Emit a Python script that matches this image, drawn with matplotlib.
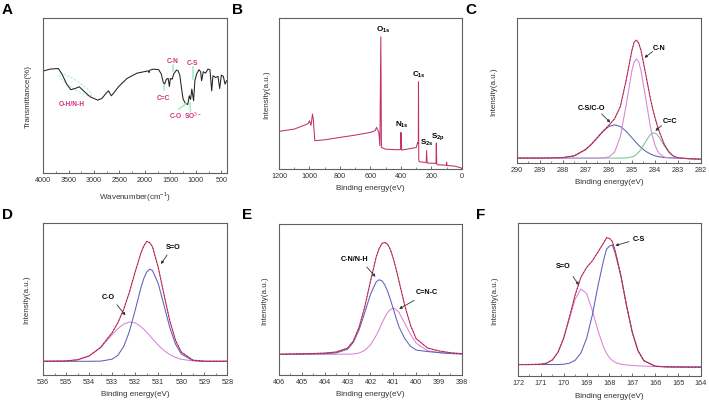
import numpy as np
import matplotlib
matplotlib.use("Agg")
import matplotlib.pyplot as plt
from matplotlib.patches import Ellipse
from matplotlib.ticker import MultipleLocator

plt.rcParams['font.family'] = ['Liberation Sans', 'DejaVu Sans']
plt.rcParams['mathtext.fontset'] = 'custom'
plt.rcParams['mathtext.rm'] = 'Liberation Sans'
plt.rcParams['mathtext.bf'] = 'Liberation Sans:bold'

# ---- A: FTIR spectrum (wavenumber, transmittance fraction)
ftir_wn = [3980, 3860, 3700, 3630, 3535, 3455, 3370, 3290, 3205, 3075, 2925, 2845,
           2760, 2715, 2660, 2615, 2515, 2350, 2155, 1960, 1935, 1920, 1905, 1830,
           1730, 1680, 1640, 1615, 1580, 1545, 1520, 1500, 1465, 1435, 1380, 1350,
           1315, 1285, 1250, 1205, 1160, 1130, 1105, 1080, 1045, 1020, 985, 940,
           907, 888, 855, 810, 763, 724, 690, 665, 612, 566, 533, 500, 461, 428, 395]
ftir_tr = [0.660, 0.671, 0.675, 0.640, 0.574, 0.538, 0.546, 0.557, 0.531, 0.492, 0.471, 0.482,
           0.516, 0.531, 0.499, 0.516, 0.559, 0.611, 0.645, 0.658, 0.660, 0.648, 0.664, 0.671,
           0.667, 0.640, 0.585, 0.574, 0.606, 0.611, 0.559, 0.611, 0.606, 0.640, 0.665, 0.660,
           0.632, 0.553, 0.477, 0.449, 0.443, 0.499, 0.475, 0.542, 0.467, 0.596, 0.640, 0.667,
           0.654, 0.596, 0.654, 0.645, 0.671, 0.667, 0.531, 0.628, 0.617, 0.624, 0.546, 0.632,
           0.624, 0.574, 0.596]

# ---- B: XPS survey
surv_be = [1200, 1100, 1010, 1000, 990, 980, 975, 965, 900, 800, 700, 600, 570, 560,
           545, 538, 532, 528, 500, 420, 402, 400, 396, 300, 290, 286, 285, 283, 280,
           240, 234, 232, 228, 170, 168, 165, 160, 102, 100, 98, 50, 10, 0]
surv_int = [0.250, 0.265, 0.300, 0.320, 0.290, 0.364, 0.330, 0.188, 0.194, 0.210, 0.225, 0.243, 0.254, 0.276,
            0.243, 0.155, 0.876, 0.143, 0.132, 0.128, 0.130, 0.243, 0.126, 0.143, 0.177, 0.170, 0.578, 0.060, 0.049,
            0.044, 0.046, 0.121, 0.040, 0.038, 0.172, 0.034, 0.029, 0.026, 0.045, 0.024, 0.020, 0.010, 0.004]

# ---- C: C 1s
c_be = [290, 289, 288, 287.5, 287, 286.75, 286.5, 286.25, 286, 285.75, 285.5, 285.25, 285, 284.9,
        284.8, 284.7, 284.6, 284.4, 284.2, 284.1, 284, 283.9, 283.8, 283.6, 283.4, 283.2, 283, 282.5, 282]
c_sum = [0.034, 0.034, 0.037, 0.050, 0.094, 0.131, 0.175, 0.220, 0.260, 0.305, 0.390, 0.570, 0.775, 0.834,
         0.848, 0.827, 0.775, 0.615, 0.450, 0.377, 0.316, 0.262, 0.214, 0.133, 0.079, 0.049, 0.036, 0.030, 0.026]
c_cn = [0.034, 0.034, 0.034, 0.034, 0.034, 0.034, 0.034, 0.035, 0.042, 0.075, 0.182, 0.397, 0.636, 0.697,
        0.718, 0.697, 0.636, 0.449, 0.256, 0.182, 0.127, 0.088, 0.064, 0.042, 0.036, 0.034, 0.033, 0.030, 0.026]
c_cs = [0.034, 0.034, 0.037, 0.050, 0.094, 0.131, 0.175, 0.219, 0.252, 0.264, 0.252, 0.219, 0.175, 0.157,
        0.139, 0.123, 0.107, 0.081, 0.063, 0.056, 0.050, 0.046, 0.043, 0.038, 0.036, 0.035, 0.033, 0.030, 0.026]
c_cc = [0.034, 0.034, 0.034, 0.034, 0.034, 0.034, 0.034, 0.034, 0.034, 0.034, 0.034, 0.035, 0.042, 0.048,
        0.059, 0.075, 0.095, 0.148, 0.196, 0.207, 0.207, 0.196, 0.175, 0.121, 0.075, 0.048, 0.036, 0.030, 0.026]

# ---- D: O 1s
d_be = [536, 535, 534.5, 534, 533.5, 533, 532.75, 532.5, 532.25, 532, 531.75, 531.625, 531.5, 531.375,
        531.25, 531, 530.75, 530.5, 530.25, 530, 529.5, 529, 528]
d_sum = [0.090, 0.092, 0.100, 0.125, 0.182, 0.279, 0.345, 0.432, 0.546, 0.680, 0.804, 0.850, 0.880, 0.872,
         0.845, 0.708, 0.529, 0.357, 0.228, 0.151, 0.098, 0.090, 0.090]
d_so = [0.090, 0.090, 0.090, 0.090, 0.091, 0.104, 0.130, 0.187, 0.287, 0.427, 0.576, 0.636, 0.678, 0.697,
        0.688, 0.602, 0.458, 0.313, 0.203, 0.138, 0.095, 0.090, 0.090]
d_co = [0.090, 0.092, 0.100, 0.125, 0.181, 0.265, 0.305, 0.335, 0.349, 0.343, 0.318, 0.301, 0.281, 0.260,
        0.238, 0.196, 0.161, 0.134, 0.115, 0.103, 0.093, 0.090, 0.090]

# ---- E: N 1s
e_be = [406, 405, 404.5, 404, 403.5, 403, 402.75, 402.5, 402.25, 402, 401.75, 401.625, 401.5, 401.375,
        401.25, 401.125, 401, 400.875, 400.75, 400.5, 400.25, 400, 399.5, 399, 398.5, 398]
e_sum = [0.137, 0.140, 0.142, 0.145, 0.152, 0.178, 0.225, 0.315, 0.450, 0.620, 0.780, 0.835, 0.870, 0.878,
         0.865, 0.830, 0.770, 0.700, 0.620, 0.460, 0.330, 0.240, 0.178, 0.159, 0.147, 0.141]
e_cn = [0.137, 0.138, 0.139, 0.141, 0.146, 0.170, 0.216, 0.298, 0.412, 0.533, 0.616, 0.630, 0.624, 0.597,
        0.554, 0.498, 0.437, 0.375, 0.318, 0.240, 0.190, 0.165, 0.155, 0.148, 0.142, 0.139]
e_cnc = [0.137, 0.137, 0.137, 0.137, 0.137, 0.138, 0.139, 0.145, 0.162, 0.199, 0.261, 0.300, 0.342, 0.381,
         0.413, 0.434, 0.442, 0.434, 0.413, 0.342, 0.270, 0.210, 0.160, 0.148, 0.142, 0.139]

# ---- F: S 2p
f_be = [172, 171.5, 171, 170.75, 170.5, 170.25, 170, 169.75, 169.5, 169.25, 169, 168.75, 168.5,
        168.25, 168.125, 168, 167.875, 167.75, 167.5, 167.25, 167, 166.75, 166.5, 166, 165.5, 165, 164]
f_sum = [0.076, 0.076, 0.078, 0.085, 0.106, 0.156, 0.250, 0.386, 0.531, 0.645, 0.710, 0.753, 0.812,
         0.872, 0.905, 0.900, 0.880, 0.819, 0.657, 0.459, 0.285, 0.166, 0.102, 0.065, 0.061, 0.060, 0.059]
f_so = [0.076, 0.076, 0.078, 0.085, 0.106, 0.156, 0.248, 0.377, 0.503, 0.570, 0.540, 0.430, 0.296,
        0.186, 0.149, 0.120, 0.103, 0.090, 0.078, 0.073, 0.070, 0.068, 0.066, 0.063, 0.061, 0.060, 0.059]
f_cs = [0.076, 0.076, 0.076, 0.076, 0.076, 0.076, 0.078, 0.085, 0.104, 0.151, 0.246, 0.399, 0.592,
        0.762, 0.830, 0.850, 0.857, 0.805, 0.655, 0.458, 0.285, 0.166, 0.102, 0.065, 0.061, 0.060, 0.059]

RED = '#cf3866'
PINK = '#d783d8'
BLUE = '#5b62b5'
GREEN = '#6fc596'
MAG = '#d0307a'
LGREEN = '#a6efc4'
SPINE = '#606060'

fig = plt.figure(figsize=(7.09, 4.06), dpi=100)

def make_ax(rect, xlim, major, minor, xlabel, ylabel, ypad):
    ax = fig.add_axes(rect)
    ax.set_xlim(*xlim)
    ax.set_ylim(0, 1)
    ax.xaxis.set_major_locator(MultipleLocator(major))
    ax.xaxis.set_minor_locator(MultipleLocator(minor))
    ax.tick_params(axis='x', which='major', direction='in', length=2.5, width=0.5,
                   labelsize=5.2, pad=2, colors='#333333')
    ax.tick_params(axis='x', which='minor', direction='in', length=1.3, width=0.4, colors='#333333')
    ax.tick_params(axis='y', left=False, labelleft=False)
    for sp in ax.spines.values():
        sp.set_color(SPINE)
        sp.set_linewidth(0.8)
    ax.set_xlabel(xlabel, fontsize=5.8, color='#333333', labelpad=4)
    ax.set_ylabel(ylabel, fontsize=5.8, color='#333333', labelpad=ypad)
    return ax

def arrow(ax, txt, xy_text, xy_tip, start):
    ax.text(xy_text[0], xy_text[1], txt, fontsize=5.2, fontweight='bold', ha='center', va='center')
    ax.annotate('', xy=xy_tip, xytext=start,
                arrowprops=dict(arrowstyle='-|>', color='#333333', lw=0.6, mutation_scale=4))

def xps(ax, be, total, comps):
    for ys, col in comps:
        ax.plot(be, ys, color=col, lw=0.75)
    ax.plot(be, total, color=RED, lw=0.8)
    ax.plot(be, total, color='black', lw=0.5, ls=(0, (1, 4)), alpha=0.8)

def letter(x, y, s):
    fig.text(x / 709, 1 - y / 406, s, fontsize=11, fontweight='bold', ha='left', va='center')

# A
axA = make_ax([0.0607, 0.571, 0.260, 0.382], (4000, 382), 500, 250,
              'Wavenumber(cm$^{-1}$)', 'Transmittance(%)', 8)
axA.plot(ftir_wn, ftir_tr, color='#222222', lw=0.75)
axA.add_patch(Ellipse((0.174, 0.57), 0.22, 0.05, angle=-38, transform=axA.transAxes,
                      fill=False, ls=(0, (2, 1.5)), color=LGREEN, lw=0.8))
marks = [((0.706, 0.697), (0.706, 0.660)), ((0.815, 0.682), (0.815, 0.606)),
         ((0.655, 0.568), (0.655, 0.538)), ((0.737, 0.413), (0.773, 0.445)),
         ((0.800, 0.396), (0.797, 0.452))]
for p0, p1 in marks:
    axA.plot([p0[0], p1[0]], [p0[1], p1[1]], color=LGREEN, lw=1.2, transform=axA.transAxes)
labsA = [('O-H/N-H', 0.156, 0.452), ('C-N', 0.706, 0.729), ('C-S', 0.809, 0.712),
         ('C=C', 0.652, 0.488), ('C-O', 0.719, 0.374), ('SO$^{3-}$', 0.815, 0.372)]
for t, x, y in labsA:
    axA.text(x, y, t, color=MAG, fontsize=4.8, fontweight='bold', ha='center', va='center',
             transform=axA.transAxes)

# B
axB = make_ax([0.3935, 0.581, 0.258, 0.372], (1200, 0), 200, 100,
              'Binding energy(eV)', 'Intensity(a.u.)', 6)
axB.plot(surv_be, surv_int, color='#c2306a', lw=0.75)
for t, x, y in [(r'$\mathbf{O}_{\mathbf{1s}}$', 515, 0.93), (r'$\mathbf{C}_{\mathbf{1s}}$', 285, 0.63),
                (r'$\mathbf{N}_{\mathbf{1s}}$', 395, 0.30), (r'$\mathbf{S}_{\mathbf{2s}}$', 232, 0.18),
                (r'$\mathbf{S}_{\mathbf{2p}}$', 158, 0.215)]:
    axB.text(x, y, t, fontsize=5.8, ha='center', va='center')

# C
axC = make_ax([0.729, 0.596, 0.2595, 0.357], (290, 282), 1, 0.5,
              'Binding energy(eV)', 'Intensity(a.u.)', 14)
xps(axC, c_be, c_sum, [(c_cs, BLUE), (c_cc, GREEN), (c_cn, PINK)])
arrow(axC, 'C-N', (283.8, 0.80), (284.55, 0.715), (284.0, 0.78))
arrow(axC, 'C-S/C-O', (286.75, 0.385), (285.85, 0.266), (286.4, 0.352))
arrow(axC, 'C=C', (283.35, 0.294), (284.07, 0.21), (283.62, 0.27))

# D
axD = make_ax([0.0607, 0.074, 0.260, 0.374], (536, 528), 1, 0.5,
              'Binding energy(eV)', 'Intensity(a.u.)', 9)
xps(axD, d_be, d_sum, [(d_co, PINK), (d_so, BLUE)])
arrow(axD, 'S=O', (530.37, 0.844), (530.95, 0.715), (530.55, 0.805))
arrow(axD, 'C-O', (533.16, 0.516), (532.35, 0.378), (532.87, 0.477))

# E
axE = make_ax([0.3935, 0.074, 0.258, 0.372], (406, 398), 1, 0.5,
              'Binding energy(eV)', 'Intensity(a.u.)', 8)
xps(axE, e_be, e_sum, [(e_cnc, PINK), (e_cn, BLUE)])
arrow(axE, 'C-N/N-H', (402.68, 0.773), (401.7, 0.636), (402.24, 0.728))
arrow(axE, 'C=N-C', (399.54, 0.552), (400.85, 0.428), (399.98, 0.503))

# F
axF = make_ax([0.7306, 0.071, 0.258, 0.377], (172, 164), 1, 0.5,
              'Binding energy(eV)', 'Intensity(a.u.)', 14)
xps(axF, f_be, f_sum, [(f_so, PINK), (f_cs, BLUE)])
arrow(axF, 'S=O', (170.03, 0.72), (169.27, 0.58), (169.66, 0.666))
arrow(axF, 'C-S', (166.69, 0.902), (167.86, 0.848), (167.03, 0.884))

letter(2, 10, 'A')
letter(232, 10, 'B')
letter(465, 10, 'C')
letter(2, 215, 'D')
letter(242, 215, 'E')
letter(476, 215, 'F')

fig.savefig('out.png', dpi=100)
